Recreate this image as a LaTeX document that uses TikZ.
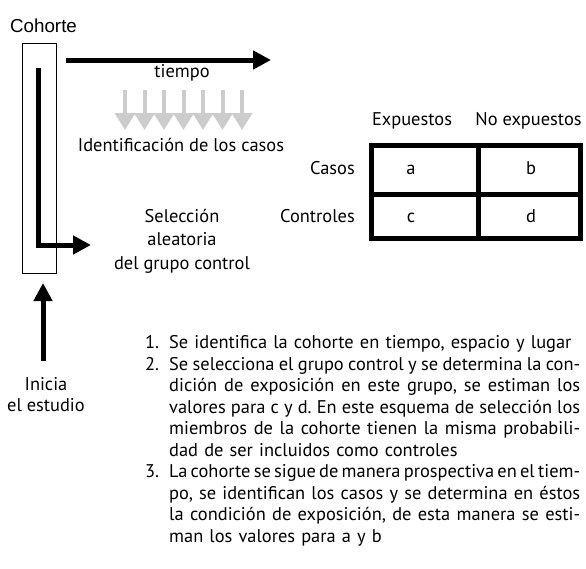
\documentclass[tikz,border=0pt]{standalone}
\usepackage{fontspec}
\setmainfont{PT Sans}
\newfontfamily\cohortefont{Liberation Sans}
\usetikzlibrary{arrows.meta}

\newcommand{\jl}[1]{{\spaceskip=0.25em plus 0.4em minus 0.14em\makebox[411pt][s]{#1}}}
\frenchspacing

\begin{document}
\begin{tikzpicture}[x=1pt, y=-1pt,
  txt/.style={inner sep=0pt, font=\fontsize{18.4}{23.3}\selectfont},
  bigarrow/.style={line width=5pt, -{Triangle[length=18pt, width=18pt]}},
  casearrow/.style={line width=4pt, black!20, -{Triangle[length=17pt, width=20pt]}}]
  \useasboundingbox (0,0) rectangle (586,568);

  % cohorte y tiempo
  \node[txt, font=\cohortefont\fontsize{18.8}{22}\selectfont, anchor=base] (cohorte) at (43.5,32) {Cohorte};
  \node[draw, line width=0.8pt, minimum width=34pt, minimum height=230pt, inner sep=0pt] (caja) at (39,158) {};
  \coordinate (t0) at (66,60);
  \coordinate (t1) at (271,60);
  \draw[bigarrow] (t0) -- (t1);
  \node[txt, anchor=base] (tiempo) at (182,77) {tiempo};
  \foreach \i in {0,...,6}
    \draw[casearrow] (125+19.5*\i,90) -- (125+19.5*\i,130);
  \node[txt, anchor=base] (ident) at (181,151) {Identificación de los casos};

  % grupo control
  \coordinate (l0) at (38.5,68);
  \coordinate (l1) at (91,245);
  \draw[bigarrow] (l0) |- (l1);
  \node[txt, anchor=base, align=center] (seleccion) at (182,269) {Selección\\aleatoria\\del grupo control};

  % inicio
  \coordinate (u0) at (43,361);
  \coordinate (u1) at (43,283);
  \draw[bigarrow] (u0) -- (u1);
  \node[txt, anchor=base, align=center, font=\fontsize{18.4}{21}\selectfont] (inicia) at (46,411) {Inicia\\el estudio};

  % tabla
  \node[txt, anchor=base] (expuestos) at (412,125) {Expuestos};
  \node[txt, anchor=base] (noexp) at (528.5,125) {No expuestos};
  \node[txt, anchor=base east] (casos) at (355,174) {Casos};
  \node[txt, anchor=base east] (controles) at (355,222) {Controles};
  \draw[line width=5pt] (371,145) rectangle (580,238);
  \draw[line width=5pt] (478.5,145) -- (478.5,238);
  \draw[line width=5pt] (371,194.5) -- (580,194.5);
  \node[txt, anchor=base] (a) at (411,174) {a};
  \node[txt, anchor=base] (b) at (531,174) {b};
  \node[txt, anchor=base] (c) at (411,222) {c};
  \node[txt, anchor=base] (d) at (531,222) {d};

  % pasos
  \node[txt, anchor=base west] (n1) at (145,348.5) {1.};
  \node[txt, anchor=base west] (n2) at (145,370) {2.};
  \node[txt, anchor=base west] (n3) at (145,477.5) {3.};
  \node[txt, anchor=base west, text width=411pt, align=left, font=\fontsize{18.4}{21.5}\selectfont] (lista) at (169,348.5) {%
    Se identifica la cohorte en tiempo, espacio y lugar\\
    \jl{Se selecciona el grupo control y se determina la con-}\\
    \jl{dición de exposición en este grupo, se estiman los}\\
    \jl{valores para c y d. En este esquema de selección los}\\
    \jl{miembros de la cohorte tienen la misma probabili-}\\
    dad de ser incluidos como controles\\
    \jl{La cohorte se sigue de manera prospectiva en el tiem-}\\
    \jl{po, se identifican los casos y se determina en éstos}\\
    \jl{la condición de exposición, de esta manera se esti-}\\
    man los valores para a y b};
\end{tikzpicture}
\end{document}
